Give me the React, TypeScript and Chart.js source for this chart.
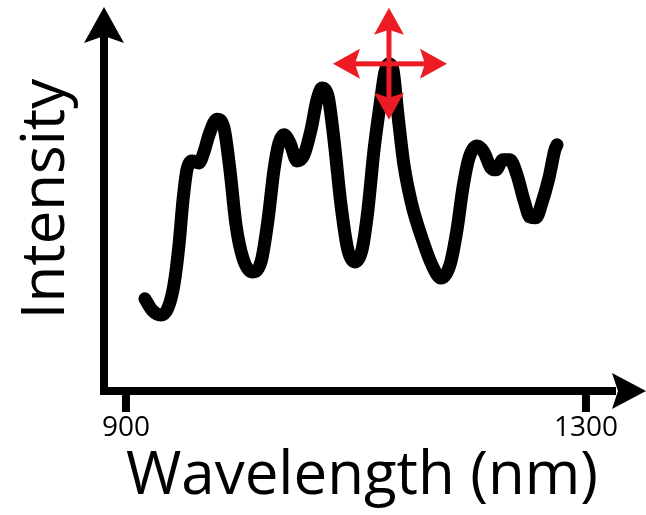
import React, { useEffect, useRef } from "react";
import { Chart, registerables } from "chart.js";

Chart.register(...registerables);

// ---- data ----
const wavelengths = [
  916.5, 922.6, 930.4, 936.5, 941.7, 946.1, 949.6, 953.0, 957.4, 963.5,
  967.8, 972.2, 979.1, 985.2, 990.4, 995.7, 1001.7, 1009.6, 1017.4, 1023.5,
  1028.7, 1033.0, 1037.4, 1042.6, 1048.7, 1054.8, 1060.9, 1066.1, 1070.4, 1075.7,
  1080.9, 1087.0, 1093.0, 1099.1, 1105.2, 1110.4, 1115.7, 1120.9, 1125.2, 1128.7,
  1132.2, 1136.5, 1141.7, 1148.7, 1157.4, 1166.1, 1173.9, 1181.7, 1187.8, 1193.0,
  1198.3, 1205.2, 1211.3, 1217.4, 1221.7, 1227.8, 1233.9, 1240.0, 1246.1, 1251.3,
  1256.5, 1261.7, 1267.8, 1273.0, 1274.8,
];
const intensities = [
  24.0, 21.1, 19.8, 21.6, 27.6, 38.0, 49.7, 57.6, 59.9, 59.4,
  62.2, 66.7, 70.8, 68.5, 57.6, 43.2, 34.6, 31.0, 33.6, 44.5,
  57.6, 64.6, 66.7, 64.6, 59.9, 61.5, 68.0, 75.8, 78.9, 76.8,
  65.4, 48.4, 36.7, 33.6, 36.7, 47.1, 62.8, 74.5, 83.1, 85.2,
  83.6, 71.9, 58.9, 48.4, 39.8, 32.8, 29.4, 32.8, 41.9, 52.9,
  60.7, 63.8, 62.2, 58.1, 57.6, 60.2, 60.2, 56.3, 49.7, 45.3,
  45.1, 49.0, 55.5, 62.8, 64.1,
];
const xTickValues = [900, 1300];
const xRange = [880.9, 1329.6];
const yRange = [0, 100];
const markerPoint = [1128.7, 85.2];
const xTitle = "Wavelength (nm)";
const yTitle = "Intensity";

const FONT = "'Open Sans', 'Noto Sans', sans-serif";
const RED = "#ED1C24";

function arrowHead(
  ctx: CanvasRenderingContext2D,
  tipX: number,
  tipY: number,
  dirX: number,
  dirY: number,
  len: number,
  half: number,
  notch: number
) {
  const px = -dirY;
  const py = dirX;
  const bx = tipX - dirX * len;
  const by = tipY - dirY * len;
  ctx.beginPath();
  ctx.moveTo(tipX, tipY);
  ctx.lineTo(bx + px * half, by + py * half);
  ctx.lineTo(tipX - dirX * (len - notch), tipY - dirY * (len - notch));
  ctx.lineTo(bx - px * half, by - py * half);
  ctx.closePath();
  ctx.fill();
}

const decorPlugin = {
  id: "decor",
  afterDatasetsDraw(chart: any) {
    const { ctx, chartArea, scales } = chart;
    const left = chartArea.left;
    const bottom = chartArea.bottom;
    ctx.save();
    // axes
    ctx.fillStyle = "#000";
    ctx.fillRect(left - 4, 30, 8, bottom + 4 - 30);
    ctx.fillRect(left - 4, bottom - 4, 620 - left, 8);
    arrowHead(ctx, left, 7, 0, -1, 36, 20, 7);
    arrowHead(ctx, chart.width, bottom, 1, 0, 34, 18, 6);
    // x tick marks
    for (const t of scales.x.ticks) {
      const tx = scales.x.getPixelForValue(t.value);
      ctx.fillRect(tx - 4, bottom, 8, 21);
    }

    // red move-cross on the main peak
    const cx = scales.x.getPixelForValue(markerPoint[0]);
    const cy = scales.y.getPixelForValue(markerPoint[1]);
    ctx.fillStyle = RED;
    const w = 5;
    ctx.fillRect(cx - 56 + 20, cy - w / 2, 112 - 40, w);
    ctx.fillRect(cx - w / 2, cy - 56 + 20, w, 112 - 40);
    arrowHead(ctx, cx, cy - 56, 0, -1, 27, 15, 5);
    arrowHead(ctx, cx, cy + 56, 0, 1, 27, 15, 5);
    arrowHead(ctx, cx - 56, cy, -1, 0, 27, 15, 5);
    arrowHead(ctx, cx + 58, cy, 1, 0, 27, 15, 5);
    ctx.restore();
  },
};

export default function App() {
  const ref = useRef<HTMLCanvasElement | null>(null);

  useEffect(() => {
    document.body.style.margin = "0";
    const canvas = ref.current;
    if (!canvas) return;
    const chart = new Chart(canvas, {
      type: "line",
      data: {
        datasets: [
          {
            data: wavelengths.map((x, i) => ({ x, y: intensities[i] })),
            borderColor: "#000",
            borderWidth: 13,
            borderCapStyle: "round",
            borderJoinStyle: "round",
            cubicInterpolationMode: "monotone",
            pointRadius: 0,
            fill: false,
            clip: false,
          } as any,
        ],
      },
      options: {
        responsive: false,
        animation: false,
        events: [],
        layout: { padding: { top: 7, right: 26, left: 0, bottom: 0 } },
        plugins: {
          legend: { display: false },
          tooltip: { enabled: false },
          title: { display: false },
        },
        scales: {
          x: {
            type: "linear",
            min: xRange[0],
            max: xRange[1],
            afterBuildTicks: (s: any) => {
              s.ticks = xTickValues.map((v) => ({ value: v }));
            },
            afterFit: (s: any) => {
              s.height = 124;
            },
            border: { display: false },
            grid: {
              display: true,
              drawOnChartArea: false,
              drawTicks: true,
              tickLength: 21,
              color: "rgba(0,0,0,0)",
              tickColor: "rgba(0,0,0,0)",
            },
            ticks: {
              color: "#000",
              font: { family: FONT, size: 28, lineHeight: 1 },
              padding: 2,
              maxRotation: 0,
              minRotation: 0,
              autoSkip: false,
              callback: (v: any) => String(v),
            },
            title: {
              display: true,
              text: xTitle,
              color: "#000",
              font: { family: FONT, size: 60, lineHeight: 1 },
              padding: { top: 0, bottom: 8 },
            },
          },
          y: {
            type: "linear",
            min: yRange[0],
            max: yRange[1],
            afterFit: (s: any) => {
              s.width = 104;
            },
            border: { display: false },
            grid: { display: false },
            ticks: { display: false },
            title: {
              display: true,
              text: yTitle,
              color: "#000",
              font: { family: FONT, size: 60, lineHeight: 1 },
              padding: { top: 17, bottom: 0 },
            },
          },
        },
      },
      plugins: [decorPlugin],
    } as any);
    return () => chart.destroy();
  }, []);

  return (
    <div style={{ width: 646, height: 515, background: "#fff" }}>
      <canvas ref={ref} width={646} height={515} style={{ display: "block" }} />
    </div>
  );
}
